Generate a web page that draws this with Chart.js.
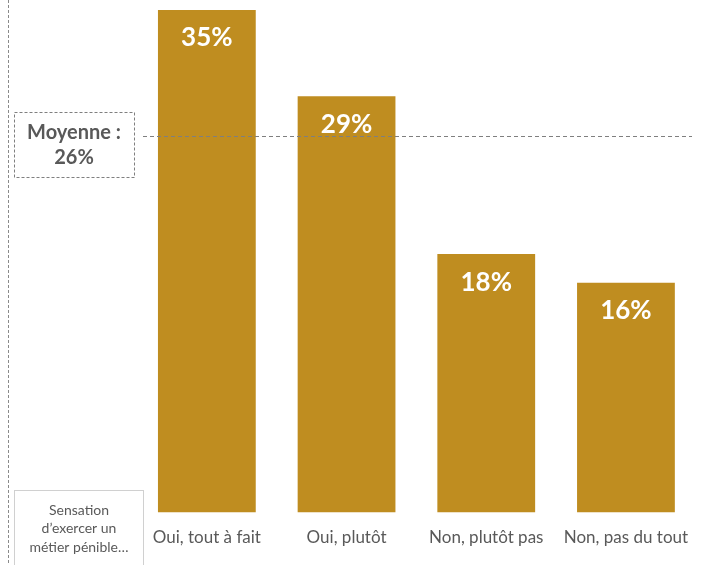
<!DOCTYPE html>
<html>
<head>
<meta charset="utf-8">
<script src="https://cdn.jsdelivr.net/npm/chart.js@4"></script>
<style>
  body { margin: 0; background: #fff; }
  #wrap { width: 704px; height: 565px; position: relative; }
</style>
</head>
<body>
<div id="wrap"><canvas id="mycanvas" width="704" height="565"></canvas></div>
<script>
var categories = ['Oui, tout à fait', 'Oui, plutôt', 'Non, plutôt pas', 'Non, pas du tout'];
var values = [35, 29, 18, 16];
var average = 26;
var averageLabel = ['Moyenne :', '26%'];
var questionLabel = ['Sensation', 'd\u2019exercer un', 'métier pénible…'];

var font = 'Lato, "Open Sans", sans-serif';
var grey = '#595959';

// annotations: dashed frame, average line, boxes, value labels
var extras = {
  id: 'extras',
  afterDatasetsDraw: function(chart) {
    var ctx = chart.ctx;
    var y = chart.scales.y;
    ctx.save();

    // left dashed vertical
    ctx.strokeStyle = '#8a8a8a';
    ctx.lineWidth = 1;
    ctx.setLineDash([3, 2]);
    ctx.beginPath();
    ctx.moveTo(8.5, 0);
    ctx.lineTo(8.5, 565);
    ctx.stroke();

    // average line
    var ay = Math.round(y.getPixelForValue(average)) - 2.5;
    ctx.strokeStyle = '#7f7f7f';
    ctx.setLineDash([4, 3]);
    ctx.beginPath();
    ctx.moveTo(143, ay);
    ctx.lineTo(692, ay);
    ctx.stroke();

    // moyenne box
    ctx.setLineDash([3, 2]);
    ctx.strokeRect(14.5, 112.5, 120, 65);
    ctx.setLineDash([]);
    ctx.fillStyle = grey;
    ctx.font = 'bold 20px ' + font;
    ctx.textAlign = 'center';
    ctx.textBaseline = 'middle';
    ctx.fillText(averageLabel[0], 74, 133);
    ctx.fillText(averageLabel[1], 74, 158);

    // question box
    ctx.strokeStyle = '#d0d0d0';
    ctx.strokeRect(14.5, 490.5, 129, 80);
    ctx.font = '14px ' + font;
    questionLabel.forEach(function(t, i) {
      ctx.fillText(t, 79, 510 + i * 18.5);
    });

    // value labels
    var meta = chart.getDatasetMeta(0);
    ctx.fillStyle = '#ffffff';
    ctx.font = 'bold 26px ' + font;
    meta.data.forEach(function(bar, i) {
      ctx.fillText(values[i] + '%', bar.x, bar.y + 28);
    });
    ctx.restore();
  }
};

var myChart = new Chart(document.getElementById('mycanvas'), {
  type: 'bar',
  data: {
    labels: categories,
    datasets: [{
      data: values,
      backgroundColor: '#bf8d20',
      borderWidth: 0,
      barPercentage: 0.7,
      categoryPercentage: 1
    }]
  },
  options: {
    responsive: false,
    animation: false,
    layout: { padding: { left: 137, right: 7, top: 10, bottom: 2 } },
    plugins: { legend: { display: false }, tooltip: { enabled: false } },
    scales: {
      x: {
        grid: { display: false, drawTicks: false },
        border: { display: false },
        ticks: { color: grey, padding: 15, font: { family: font, size: 17 } }
      },
      y: { display: false, min: 0, max: 35 }
    }
  },
  plugins: [extras]
});
</script>
</body>
</html>
